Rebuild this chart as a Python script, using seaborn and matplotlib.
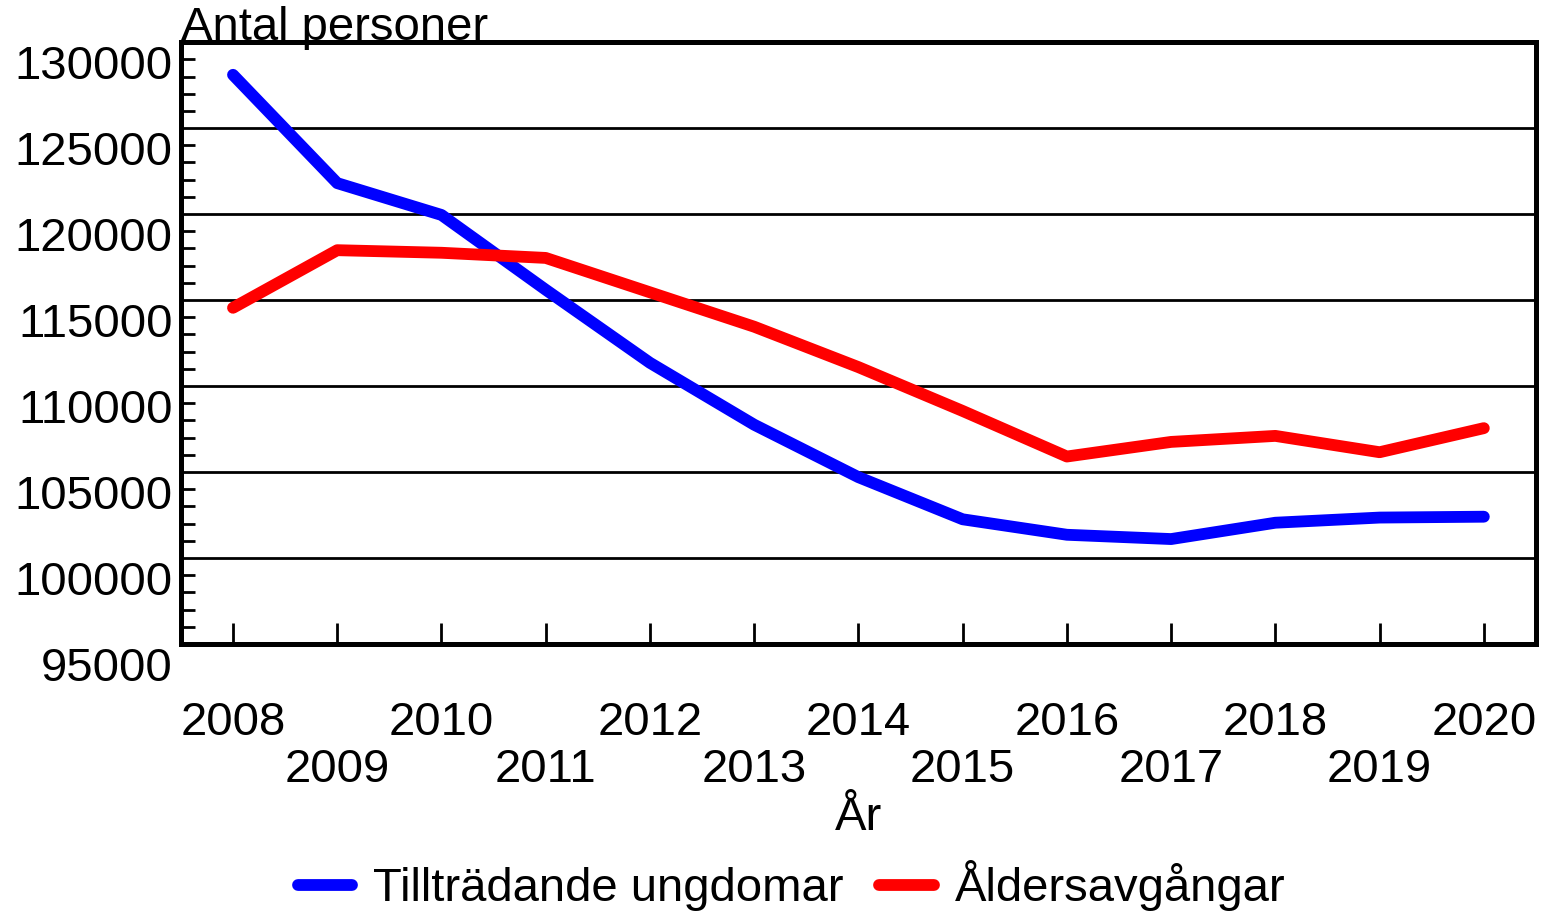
#
#   Line chart: incoming young people vs retirements, 2008-2020
#
import pandas as pd
import seaborn as sns
import matplotlib
matplotlib.use("Agg")
from matplotlib import pyplot as plt
from matplotlib import ticker as ticktools
from matplotlib import transforms


# values
years = list(range(2008, 2021))
ungdomar = [128100, 121800, 119950, 115600, 111350, 107750, 104700,
            102250, 101350, 101100, 102050, 102350, 102400]
avgangar = [114550, 117900, 117750, 117450, 115450, 113450, 111100,
            108550, 105900, 106750, 107100, 106150, 107550]
series_names = ["Tillträdande ungdomar", "Åldersavgångar"]
series_colors = ["#0000ff", "#ff0000"]
y_ticks = [95000, 100000, 105000, 110000, 115000, 120000, 125000, 130000]


def main():

    df = pd.DataFrame({
        "År": years * 2,
        "Antal": ungdomar + avgangar,
        "Serie": [series_names[0]] * len(years) + [series_names[1]] * len(years),
    })

    sns.set_style("white")
    plt.rcParams['font.family'] = ['Liberation Sans', 'DejaVu Sans']
    plt.rcParams['text.color'] = 'black'
    plt.rcParams['axes.labelcolor'] = 'black'
    plt.rcParams['xtick.color'] = 'black'
    plt.rcParams['ytick.color'] = 'black'
    fs = 34

    fig = plt.figure(figsize=(15.46, 9.16), dpi=100)
    ax = fig.add_axes([0.117, 0.297, 0.8765, 0.657])

    sns.lineplot(data=df, x="År", y="Antal", hue="Serie",
                 palette=dict(zip(series_names, series_colors)),
                 linewidth=8.5, solid_capstyle="round", legend=False, ax=ax)

    ax.set_xlim(2007.5, 2020.5)
    ax.set_ylim(y_ticks[0], y_ticks[-1])

    # frame
    for side in ax.spines.values():
        side.set_linewidth(3.6)
        side.set_color("black")

    # y axis: labels shifted a bit below the ticks, minor ticks inside
    ax.set_yticks(y_ticks)
    ax.yaxis.set_major_formatter(ticktools.FuncFormatter(lambda v, p: "%d" % v))
    ax.yaxis.set_minor_locator(ticktools.MultipleLocator(1000))
    ax.tick_params(axis="y", which="both", direction="in", left=True,
                   right=False, labelsize=fs, pad=6, colors="black")
    ax.tick_params(axis="y", which="major", length=0)
    ax.tick_params(axis="y", which="minor", length=10, width=2)
    shift = transforms.ScaledTranslation(0, -20 / 100, fig.dpi_scale_trans)
    for tick in ax.yaxis.get_major_ticks():
        tick.label1.set_transform(tick.label1.get_transform() + shift)

    ax.yaxis.grid(True, which="major", color="black", linewidth=2)
    ax.xaxis.grid(False)

    # x axis: even years on the first row, odd years on the second
    even = [y for y in years if y % 2 == 0]
    odd = [y for y in years if y % 2 == 1]
    ax.xaxis.set_major_locator(ticktools.FixedLocator(even))
    ax.xaxis.set_major_formatter(ticktools.FixedFormatter([str(y) for y in even]))
    ax.xaxis.set_minor_locator(ticktools.FixedLocator(odd))
    ax.xaxis.set_minor_formatter(ticktools.FixedFormatter([str(y) for y in odd]))
    ax.tick_params(axis="x", which="both", direction="in", bottom=True,
                   top=False, length=15, width=2, labelsize=fs, colors="black")
    ax.tick_params(axis="x", which="major", pad=41)
    ax.tick_params(axis="x", which="minor", pad=75)

    ax.set_xlabel("År", fontsize=fs, color="black")
    ax.xaxis.set_label_coords(0.5, -0.289)
    ax.xaxis.label.set_va("center")
    ax.set_ylabel("")

    fig.text(181 / 1546, 1 - 40 / 916, "Antal personer", fontsize=fs,
             ha="left", va="baseline", color="black")

    leg = fig.legend(ax.get_lines()[:2], series_names, loc="center",
                     bbox_to_anchor=(0.512, 0.033), ncol=2, frameon=False,
                     fontsize=fs, handlelength=1.15, handletextpad=0.45,
                     columnspacing=0.75)
    for t in leg.get_texts():
        t.set_color("black")

    fig.savefig("out.png", dpi=100)


main()
